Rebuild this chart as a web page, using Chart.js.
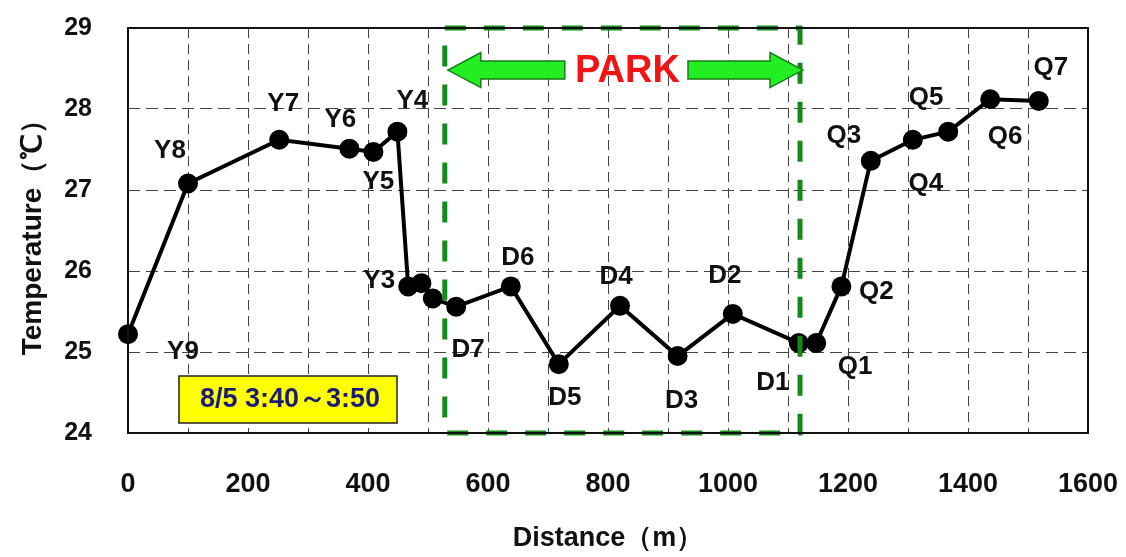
<!DOCTYPE html>
<html>
<head>
<meta charset="utf-8">
<script src="https://cdn.jsdelivr.net/npm/chart.js@4.4.1/dist/chart.umd.min.js"></script>
<style>
  html, body { margin: 0; padding: 0; background: #fff; }
  #wrap { width: 1126px; height: 557px; }
</style>
</head>
<body>
<div id="wrap"><canvas id="tempChart"></canvas></div>
<script>
// data
const distances = [0, 100, 252, 369, 409, 449, 467, 489, 508, 547, 638, 718, 820, 916, 1008, 1118, 1147, 1189, 1238, 1308, 1367, 1437, 1518];
const temps = [25.22, 27.08, 27.62, 27.51, 27.47, 27.72, 25.81, 25.85, 25.66, 25.56, 25.81, 24.85, 25.57, 24.95, 25.47, 25.11, 25.11, 25.81, 27.36, 27.62, 27.72, 28.12, 28.10];
const pointNames = ['Y9', 'Y8', 'Y7', 'Y6', 'Y5', 'Y4', 'Y3', '', '', 'D7', 'D6', 'D5', 'D4', 'D3', 'D2', 'D1', 'Q1', 'Q2', 'Q3', 'Q4', 'Q5', 'Q6', 'Q7'];
const xTickLabels = [0, 200, 400, 600, 800, 1000, 1200, 1400, 1600];
const yTickLabels = [24, 25, 26, 27, 28, 29];
const parkStart = 528;
const parkEnd = 1120;
const parkText = 'PARK';
const timeText = '8/5 3:40～3:50';

// where each point name sits relative to its dot (px)
const nameOffsets = [[55, 18], [-18, -33], [4, -36], [-9, -29], [5, 30], [15, -31], [-29, -6], [0, 0], [0, 0],
  [12, 43], [7, -29], [6, 34], [-4, -29], [4, 45], [-8, -38], [-26, 40], [39, 24], [35, 5],
  [-27, -25], [13, 44], [-22, -34], [15, 38], [12, -33]];

const FONT = "'Liberation Sans', Arial, sans-serif";

function arrow(ctx, tipX, tailX, y) {
  const dir = tipX < tailX ? 1 : -1;
  const headLen = 33, headH = 17.5, shaftH = 9;
  ctx.beginPath();
  ctx.moveTo(tipX, y);
  ctx.lineTo(tipX + dir * headLen, y - headH);
  ctx.lineTo(tipX + dir * headLen, y - shaftH);
  ctx.lineTo(tailX, y - shaftH);
  ctx.lineTo(tailX, y + shaftH);
  ctx.lineTo(tipX + dir * headLen, y + shaftH);
  ctx.lineTo(tipX + dir * headLen, y + headH);
  ctx.closePath();
  ctx.fillStyle = '#22ee22';
  ctx.fill();
  ctx.lineWidth = 1.5;
  ctx.strokeStyle = '#1a7a1a';
  ctx.stroke();
}

// drop the tick-label overhang so the plot box sits where we ask
function fixBox(size, key) {
  return s => {
    s[key] = size;
    s.paddingTop = 0; s.paddingBottom = 0; s.paddingLeft = 0; s.paddingRight = 0;
  };
}

const decorations = {
  id: 'decorations',
  afterDatasetsDraw(chart) {
    const { ctx, chartArea: a, scales: { x, y } } = chart;
    const meta = chart.getDatasetMeta(0);

    // point names
    ctx.save();
    ctx.font = 'bold 26px ' + FONT;
    ctx.fillStyle = '#111';
    ctx.textAlign = 'center';
    ctx.textBaseline = 'middle';
    meta.data.forEach((p, i) => {
      if (!pointNames[i]) return;
      ctx.fillText(pointNames[i], p.x + nameOffsets[i][0], p.y + nameOffsets[i][1]);
    });
    ctx.restore();

    // park box
    const px1 = x.getPixelForValue(parkStart), px2 = x.getPixelForValue(parkEnd);
    ctx.save();
    ctx.strokeStyle = '#15891a';
    ctx.lineWidth = 5;
    ctx.setLineDash([21, 18]);
    ctx.strokeRect(px1, a.top, px2 - px1, a.bottom - a.top);
    ctx.restore();

    // arrows + label
    const ay = y.getPixelForValue(28.48);
    ctx.save();
    arrow(ctx, px1 + 3, px1 + 120, ay);
    arrow(ctx, px2 + 3, px2 - 112, ay);
    ctx.font = 'bold 38px ' + FONT;
    ctx.fillStyle = '#f01414';
    ctx.textAlign = 'center';
    ctx.textBaseline = 'middle';
    ctx.fillText(parkText, (px1 + 120 + px2 - 112) / 2 + 1, ay + 1);
    ctx.restore();

    // time box
    ctx.save();
    ctx.fillStyle = '#ffff00';
    ctx.fillRect(a.left + 51, a.bottom - 57, 218, 47);
    ctx.strokeStyle = '#222';
    ctx.lineWidth = 1.5;
    ctx.strokeRect(a.left + 51, a.bottom - 57, 218, 47);
    ctx.font = 'bold 27px ' + FONT;
    ctx.fillStyle = '#1c1c78';
    ctx.textAlign = 'center';
    ctx.textBaseline = 'middle';
    ctx.fillText(timeText, a.left + 162, a.bottom - 33);
    ctx.restore();

    // plot frame
    ctx.save();
    ctx.strokeStyle = '#111';
    ctx.lineWidth = 2;
    ctx.strokeRect(a.left, a.top, a.right - a.left, a.bottom - a.top);
    ctx.restore();
  }
};

new Chart(document.getElementById('tempChart'), {
  type: 'line',
  data: {
    datasets: [{
      data: distances.map((d, i) => ({ x: d, y: temps[i] })),
      borderColor: '#000',
      backgroundColor: '#000',
      borderWidth: 4,
      pointRadius: 8,
      pointHoverRadius: 8,
      tension: 0,
      clip: false
    }]
  },
  options: {
    responsive: true,
    maintainAspectRatio: false,
    animation: false,
    layout: { padding: { top: 28, right: 38, left: 0, bottom: 0 } },
    plugins: { legend: { display: false }, tooltip: { enabled: false } },
    scales: {
      x: {
        type: 'linear',
        min: 0, max: 1600,
        afterFit: fixBox(124, 'height'),
        border: { display: false, dash: [10, 6] },
        grid: { color: '#444', lineWidth: 1, drawTicks: false },
        ticks: {
          stepSize: 100,
          autoSkip: false,
          maxRotation: 0,
          minRotation: 0,
          padding: 35,
          color: '#111',
          font: { family: FONT, size: 27, weight: 'bold' },
          callback: v => xTickLabels.includes(v) ? String(v) : ''
        },
        title: {
          display: true,
          text: 'Distance（m）',
          color: '#111',
          font: { family: FONT, size: 27, weight: 'bold' },
          padding: { top: 0, bottom: 2 }
        }
      },
      y: {
        min: 24, max: 29,
        afterFit: fixBox(128, 'width'),
        border: { display: false, dash: [12, 6] },
        grid: { color: '#444', lineWidth: 1, drawTicks: false },
        ticks: {
          stepSize: 1,
          padding: 36,
          color: '#111',
          font: { family: FONT, size: 25, weight: 'bold' },
          callback: v => yTickLabels.includes(v) ? String(v) : ''
        },
        title: {
          display: true,
          text: 'Temperature（℃）',
          color: '#111',
          font: { family: FONT, size: 28, weight: 'bold' },
          padding: { top: 16, bottom: 0 }
        }
      }
    }
  },
  plugins: [decorations]
});
</script>
</body>
</html>
